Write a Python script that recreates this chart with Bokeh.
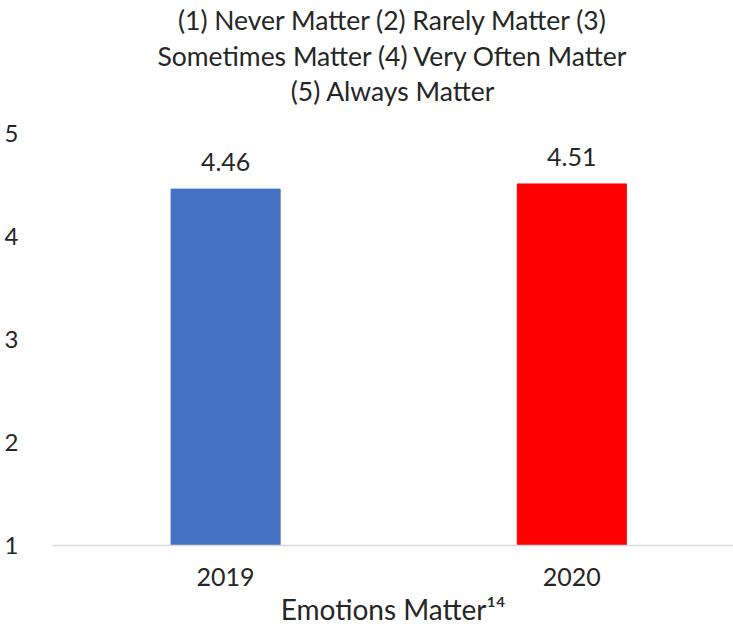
from bokeh.plotting import figure
from bokeh.models import Range1d, FixedTicker, Title, ColumnDataSource
from bokeh.core.properties import value
from bokeh.embed import file_html
from bokeh.resources import INLINE

categories = ["2019", "2020"]
scores = [4.46, 4.51]
colors = ["#4472C4", "#FF0000"]
score_labels = ["4.46", "4.51"]
y_ticks = [1, 2, 3, 4, 5]
title_lines = ["(1) Never Matter (2) Rarely Matter (3)",
               "Sometimes Matter (4) Very Often Matter",
               "(5) Always Matter"]
x_title = "Emotions Matter\u00b9\u2074"

FONT = "Lato"
TXT = "#262626"

xpos = [i + 0.5 for i in range(len(categories))]
src = ColumnDataSource(dict(x=xpos, top=scores, color=colors, lab=score_labels))

p = figure(width=733, height=628, output_backend="svg", toolbar_location=None,
           x_range=Range1d(0.0, 1.967), y_range=Range1d(1, 5),
           min_border_left=52, min_border_right=0, min_border_top=0, min_border_bottom=0)
p.outline_line_color = None
p.grid.visible = False
p.background_fill_color = "white"
p.border_fill_color = "white"

p.vbar(x="x", top="top", bottom=1, width=0.315, color="color", source=src)
p.text(x="x", y="top", text="lab", source=src, text_align="center", text_baseline="alphabetic",
       y_offset=-27, text_font=value(FONT), text_font_size="25px", text_color=TXT)

def make_title(line, standoff, size="26.5px"):
    return Title(text=line, align="center", text_font=FONT, text_font_size=size,
                 text_font_style="normal", text_color=TXT, standoff=standoff, offset=0)

# p.title is outermost; the first added layout sits closest to the plot
p.title = make_title(title_lines[0], 2)
p.add_layout(make_title(" ", 0, "20px"), "above")   # spacer between title and plot
p.add_layout(make_title(title_lines[2], 1), "above")
p.add_layout(make_title(title_lines[1], 2), "above")

xa = p.xaxis[0]
xa.ticker = FixedTicker(ticks=xpos)
xa.major_label_overrides = {x: c for x, c in zip(xpos, categories)}
xa.axis_line_color = "#D9D9D9"
xa.axis_line_width = 1.5
xa.major_tick_line_color = None
xa.minor_tick_line_color = None
xa.major_label_text_font = FONT
xa.major_label_text_font_size = "25px"
xa.major_label_text_color = TXT
xa.major_label_standoff = 16
xa.axis_label = x_title
xa.axis_label_text_font = FONT
xa.axis_label_text_font_size = "28px"
xa.axis_label_text_font_style = "normal"
xa.axis_label_text_color = TXT
xa.axis_label_standoff = 3

ya = p.yaxis[0]
ya.ticker = FixedTicker(ticks=y_ticks)
ya.axis_line_color = None
ya.major_tick_line_color = None
ya.minor_tick_line_color = None
ya.major_label_text_font = FONT
ya.major_label_text_font_size = "24px"
ya.major_label_text_color = TXT
ya.major_label_standoff = 28

open("out.html", "w").write(file_html(p, INLINE))
